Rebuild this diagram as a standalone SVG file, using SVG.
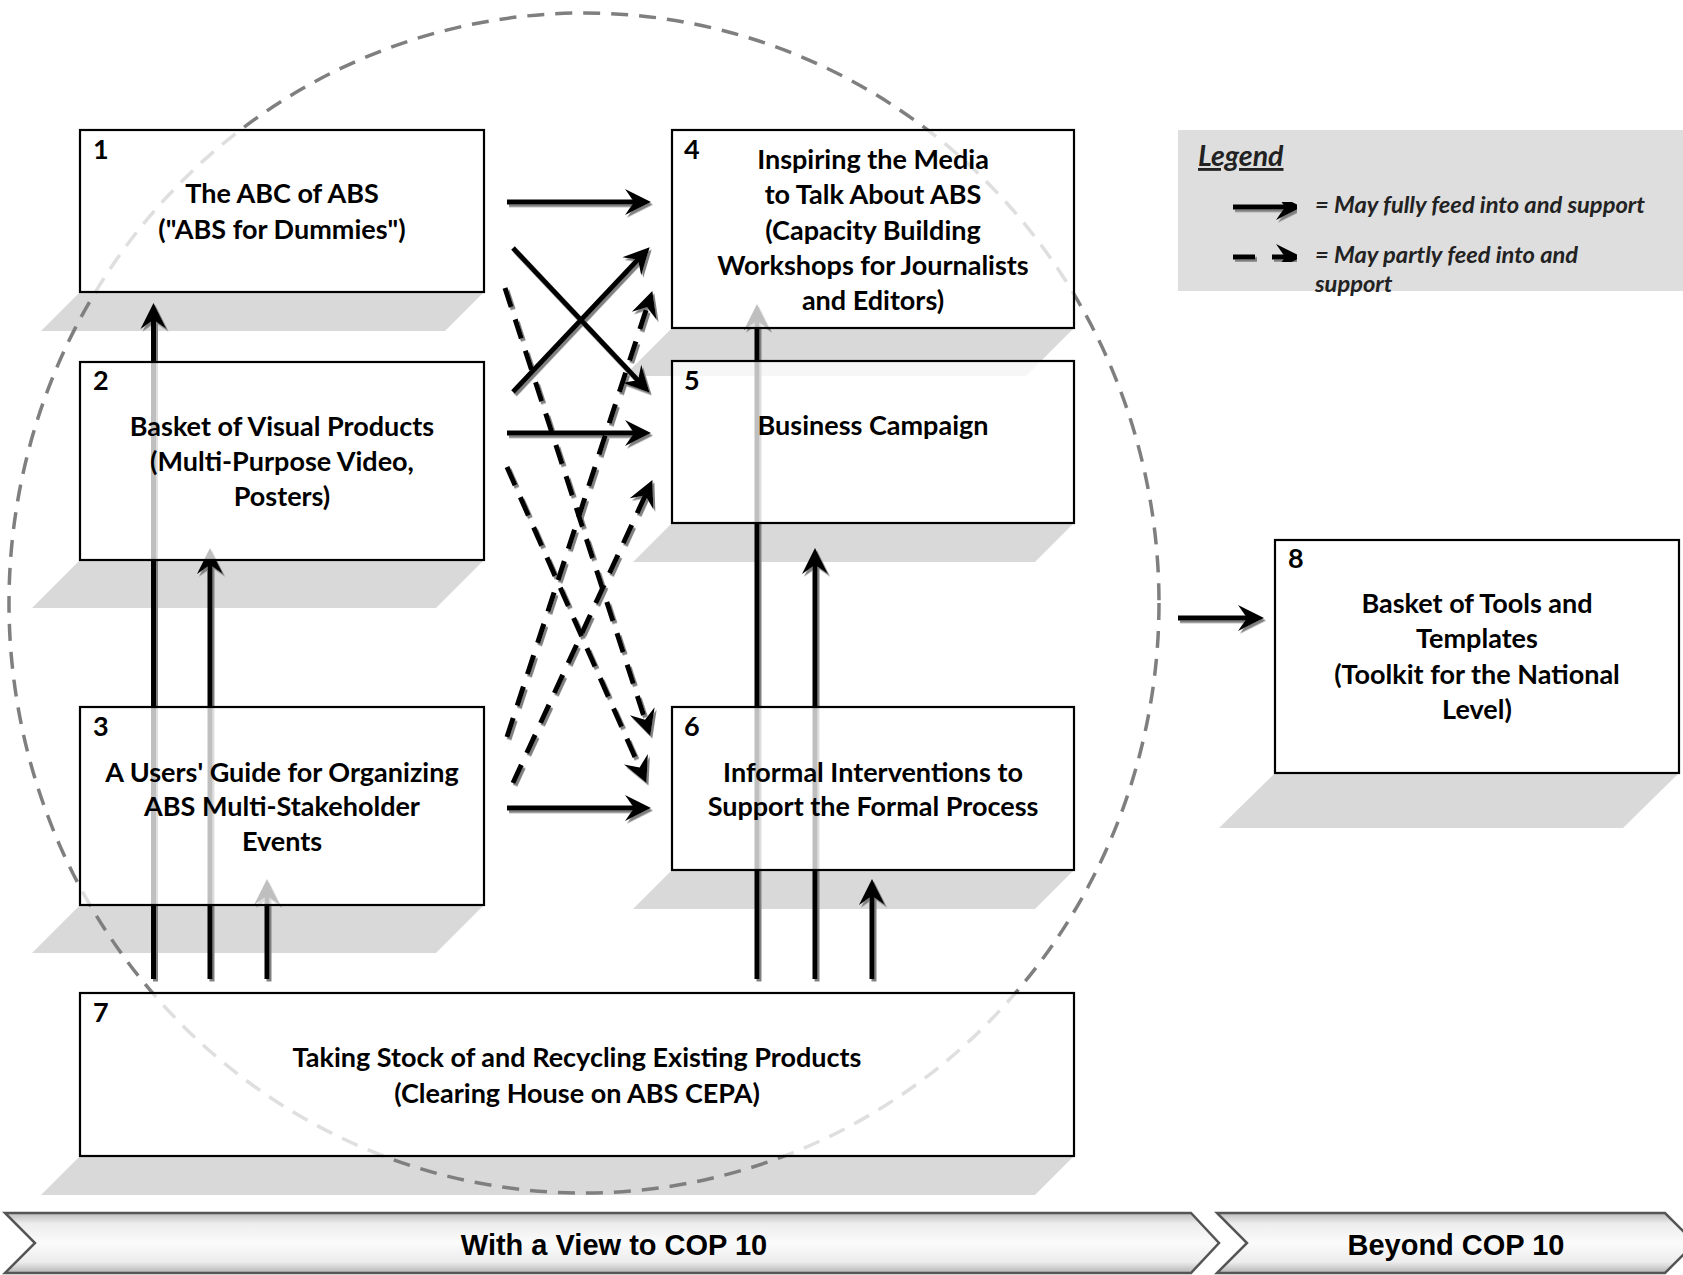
<svg xmlns="http://www.w3.org/2000/svg" width="1683" height="1275" viewBox="0 0 1683 1275">
<defs>
<style>
.box{fill:#fff;fill-opacity:0.75;stroke:#000;stroke-width:2.2}
.shd{fill:#d9d9d9}
.t{font-family:Lato,"Open Sans","Liberation Sans",sans-serif;font-weight:700;font-size:27px;fill:#000;text-anchor:middle}
.n{font-family:Lato,"Open Sans","Liberation Sans",sans-serif;font-weight:700;font-size:27px;fill:#000}
.c{fill:none;stroke:#000;stroke-width:5}
.ca{fill:none;stroke:#000;stroke-width:5;marker-end:url(#ah)}
.d{stroke-dasharray:20 13}
.lg{font-family:Lato,"Open Sans","Liberation Sans",sans-serif;font-weight:700;font-style:italic;font-size:23.7px;fill:#222}
.band{stroke:#555;stroke-width:2.5;fill:url(#bg)}
.bt{font-family:"Liberation Sans",Arial,sans-serif;font-weight:700;font-size:29px;fill:#000;text-anchor:middle}
</style>
<marker id="ah" markerUnits="userSpaceOnUse" markerWidth="30" markerHeight="30" viewBox="0 -15 30 30" refX="14" refY="0" orient="auto" overflow="visible">
<path d="M-1,-13 L25,0 L-1,13 L8,0 Z" fill="#000"/>
</marker>
<filter id="ds" x="-10%" y="-10%" width="120%" height="120%">
<feDropShadow dx="2" dy="2.5" stdDeviation="0.6" flood-color="#808080" flood-opacity="1"/>
</filter>
<linearGradient id="bg" x1="0" y1="0" x2="0" y2="1">
<stop offset="0" stop-color="#bdbdbd"/>
<stop offset="0.18" stop-color="#ededed"/>
<stop offset="0.5" stop-color="#fbfbfb"/>
<stop offset="0.82" stop-color="#ececec"/>
<stop offset="1" stop-color="#b5b5b5"/>
</linearGradient>
</defs>
<rect width="1683" height="1275" fill="#fff"/>

<g id="shadows">
<polygon class="shd" points="80,292 484,292 445,331 41,331"/>
<polygon class="shd" points="80,560 484,560 436,608 32,608"/>
<polygon class="shd" points="80,905 484,905 436,953 32,953"/>
<polygon class="shd" points="672,328 1074,328 1026,376 624,376"/>
<polygon class="shd" points="672,523 1074,523 1035,562 633,562"/>
<polygon class="shd" points="672,870 1074,870 1035,909 633,909"/>
<polygon class="shd" points="80,1156 1074,1156 1035,1195 41,1195"/>
<polygon class="shd" points="1275,773 1679,773 1623,828 1219,828"/>
</g>

<ellipse id="scope" cx="584" cy="603" rx="575" ry="590" fill="none" stroke="#7f7f7f" stroke-width="3.5" stroke-dasharray="17 11"/>

<g id="connectors" filter="url(#ds)">
<line class="ca" x1="153.5" y1="979" x2="153.5" y2="314"/>
<line class="ca" x1="210" y1="979" x2="210" y2="559"/>
<line class="ca" x1="267" y1="979" x2="267" y2="890"/>
<line class="ca" x1="757" y1="979" x2="757" y2="315"/>
<line class="ca" x1="815" y1="979" x2="815" y2="559"/>
<line class="ca" x1="872" y1="979" x2="872" y2="890"/>
<line class="ca" x1="507" y1="202" x2="640" y2="202"/>
<line class="ca" x1="507" y1="433" x2="640" y2="433"/>
<line class="ca" x1="507" y1="808" x2="640" y2="808"/>
<line class="ca" x1="1178" y1="618" x2="1253" y2="618"/>
<line class="ca" x1="513" y1="248" x2="642.1" y2="384.7"/>
<line class="ca" x1="513" y1="392" x2="642.1" y2="255.3"/>
<line class="ca d" x1="505" y1="288" x2="646.9" y2="725.5"/>
<line class="ca d" x1="507" y1="467" x2="642" y2="772.9"/>
<line class="ca d" x1="507" y1="737" x2="648.9" y2="301.5"/>
<line class="ca d" x1="513" y1="783" x2="647.8" y2="490.1"/>
</g>

<g id="node1">
<rect class="box" x="80" y="130" width="404" height="162"/>
<text class="n" x="93" y="159">1</text>
<text class="t" x="282" y="203">The ABC of ABS</text>
<text class="t" x="282" y="239">("ABS for Dummies")</text>
</g>
<g id="node2">
<rect class="box" x="80" y="362" width="404" height="198"/>
<text class="n" x="93" y="390">2</text>
<text class="t" x="282" y="435.5">Basket of Visual Products</text>
<text class="t" x="282" y="471">(Multi-Purpose Video,</text>
<text class="t" x="282" y="505.5">Posters)</text>
</g>
<g id="node3">
<rect class="box" x="80" y="707" width="404" height="198"/>
<text class="n" x="93" y="736">3</text>
<text class="t" x="282" y="781.5">A Users' Guide for Organizing</text>
<text class="t" x="282" y="815.5">ABS Multi-Stakeholder</text>
<text class="t" x="282" y="851">Events</text>
</g>
<g id="node4">
<rect class="box" x="672" y="130" width="402" height="198"/>
<text class="n" x="684" y="159">4</text>
<text class="t" x="873" y="168.5">Inspiring the Media</text>
<text class="t" x="873" y="203.5">to Talk About ABS</text>
<text class="t" x="873" y="239.5">(Capacity Building</text>
<text class="t" x="873" y="274.5">Workshops for Journalists</text>
<text class="t" x="873" y="310">and Editors)</text>
</g>
<g id="node5">
<rect class="box" x="672" y="361" width="402" height="162"/>
<text class="n" x="684" y="390">5</text>
<text class="t" x="873" y="434.5">Business Campaign</text>
</g>
<g id="node6">
<rect class="box" x="672" y="707" width="402" height="163"/>
<text class="n" x="684" y="736">6</text>
<text class="t" x="873" y="781.5">Informal Interventions to</text>
<text class="t" x="873" y="815.5">Support the Formal Process</text>
</g>
<g id="node7">
<rect class="box" x="80" y="993" width="994" height="163"/>
<text class="n" x="93" y="1022">7</text>
<text class="t" x="577" y="1066.5">Taking Stock of and Recycling Existing Products</text>
<text class="t" x="577" y="1103">(Clearing House on ABS CEPA)</text>
</g>
<g id="node8">
<rect class="box" x="1275" y="540" width="404" height="233"/>
<text class="n" x="1288" y="568">8</text>
<text class="t" x="1477" y="612.5">Basket of Tools and</text>
<text class="t" x="1477" y="648">Templates</text>
<text class="t" x="1477" y="683.5">(Toolkit for the National</text>
<text class="t" x="1477" y="719">Level)</text>
</g>

<g id="legend">
<rect x="1178" y="130" width="505" height="161" fill="#dedede"/>
<text class="lg" x="1198" y="166" text-decoration="underline" style="font-size:28.5px">Legend</text>
<g filter="url(#ds)">
<line class="ca" x1="1233" y1="207" x2="1291" y2="207"/>
<line class="ca" x1="1233" y1="257" x2="1291" y2="257" stroke-dasharray="22 17 40"/>
</g>
<text class="lg" x="1315" y="213">= May fully feed into and support</text>
<text class="lg" x="1315" y="263">= May partly feed into and</text>
<text class="lg" x="1315" y="292">support</text>
</g>

<g id="timeline">
<polygon class="band" points="5,1213 1191,1213 1219,1243 1191,1273 5,1273 35,1243"/>
<text class="bt" x="614" y="1255">With a View to COP 10</text>
<polygon class="band" points="1217,1213 1665,1213 1695,1243 1665,1273 1217,1273 1247,1243"/>
<text class="bt" x="1456" y="1255">Beyond COP 10</text>
</g>
</svg>
